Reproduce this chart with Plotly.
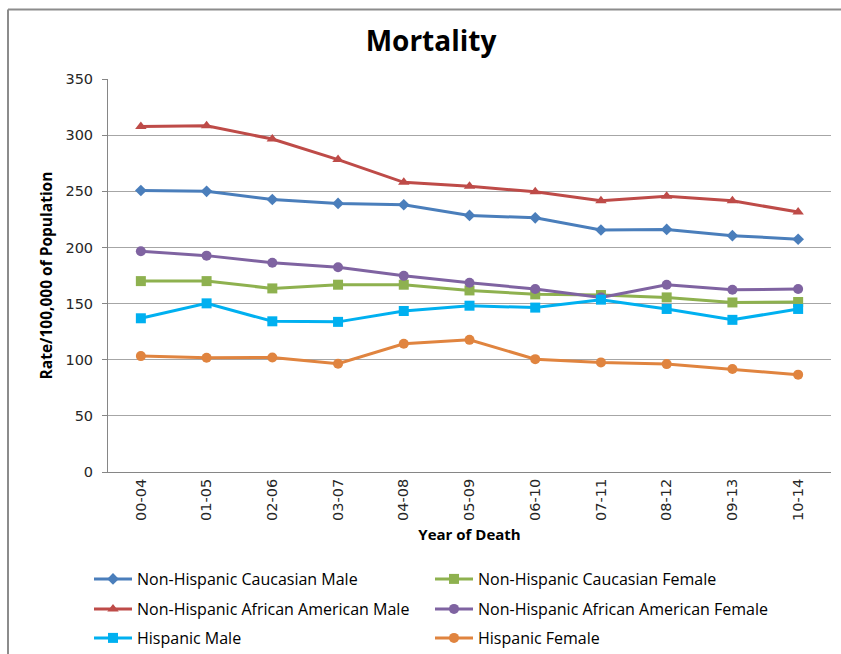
import plotly.graph_objects as go

categories = ["00-04", "01-05", "02-06", "03-07", "04-08", "05-09",
              "06-10", "07-11", "08-12", "09-13", "10-14"]

nh_caucasian_male = [250.7, 250.0, 242.7, 239.2, 238.0, 228.5, 226.4, 215.5, 216.0, 210.5, 207.3]
nh_caucasian_female = [170.0, 170.0, 163.5, 166.8, 166.8, 161.7, 158.2, 157.6, 155.5, 151.0, 151.4]
nh_afam_male = [307.7, 308.3, 296.5, 278.2, 258.0, 254.5, 249.5, 241.5, 245.6, 241.5, 231.5]
nh_afam_female = [196.6, 192.7, 186.3, 182.4, 174.7, 168.5, 163.0, 155.5, 166.8, 162.3, 163.0]
hispanic_male = [136.9, 150.2, 134.2, 133.7, 143.4, 148.1, 146.4, 153.5, 145.2, 135.5, 145.2]
hispanic_female = [103.2, 101.8, 102.0, 96.4, 114.2, 117.7, 100.5, 97.6, 96.1, 91.7, 86.7]

series = [
    ("Non-Hispanic Caucasian Male", nh_caucasian_male, "#4A7EBB", "diamond", 9, "legend"),
    ("Non-Hispanic Caucasian Female", nh_caucasian_female, "#8EB14F", "square", 10, "legend"),
    ("Non-Hispanic African American Male", nh_afam_male, "#BE4B48", "triangle-up", 10, "legend2"),
    ("Non-Hispanic African American Female", nh_afam_female, "#7F63A1", "circle", 10, "legend2"),
    ("Hispanic Male", hispanic_male, "#00B0F0", "square", 10, "legend3"),
    ("Hispanic Female", hispanic_female, "#E0843F", "circle", 10, "legend3"),
]

fig = go.Figure()
for name, vals, color, sym, size, lg in series:
    fig.add_trace(go.Scatter(
        x=categories, y=vals, name=name, mode="lines+markers",
        line=dict(color=color, width=3),
        marker=dict(symbol=sym, size=size, color=color),
        legend=lg,
    ))

W, H = 841, 654
L, R, T, B = 108, 10, 79, 182
pw, ph = W - L - R, H - T - B

def px(x):
    return (x - L) / pw

def py(y):
    return (H - B - y) / ph

leg_common = dict(orientation="h", xanchor="left", yanchor="middle",
                  font=dict(family="Open Sans", size=16, color="#000000"),
                  entrywidth=288, entrywidthmode="pixels", itemwidth=38,
                  bgcolor="rgba(0,0,0,0)", borderwidth=0)

fig.update_layout(
    width=W, height=H,
    margin=dict(l=L, r=R, t=T, b=B, autoexpand=False),
    paper_bgcolor="white", plot_bgcolor="white",
    title=dict(text="<b>Mortality</b>", x=px(431), xref="paper", xanchor="center",
               y=1 - 41 / H, yanchor="middle",
               font=dict(family="Open Sans", size=28, color="#000000")),
    xaxis=dict(type="category", range=[-0.5, 10.5], showgrid=False,
               showline=True, linecolor="#868686", linewidth=1,
               ticks="", tickangle=-90, automargin=False,
               tickfont=dict(family="DejaVu Sans", size=14.5, color="#262626"),
               title=dict(text="<b>Year of Death</b>", standoff=9,
                          font=dict(family="Open Sans", size=15, color="#000000"))),
    yaxis=dict(range=[0, 350], dtick=50, showgrid=True, gridcolor="#A6A6A6",
               gridwidth=1, showline=True, linecolor="#868686", linewidth=1,
               ticks="outside", ticklen=5, tickcolor="#868686",
               ticklabelstandoff=6, zeroline=False, automargin=False,
               tickfont=dict(family="DejaVu Sans", size=14.5, color="#262626"),
               title=dict(text="<b>Rate/100,000 of Population</b>", standoff=8,
                          font=dict(family="Open Sans", size=15.5, color="#000000"))),
    legend=dict(x=px(89), y=py(579), **leg_common),
    legend2=dict(x=px(89), y=py(609), **leg_common),
    legend3=dict(x=px(89), y=py(638), **leg_common),
    showlegend=True,
    shapes=[
        dict(type="line", xref="paper", yref="paper", x0=px(8), x1=px(8),
             y0=py(9.5), y1=py(654), line=dict(color="#8C8C8C", width=2)),
        dict(type="line", xref="paper", yref="paper", x0=px(8), x1=px(841),
             y0=py(9.5), y1=py(9.5), line=dict(color="#8C8C8C", width=2)),
    ],
)

fig.write_html("out.html", config={"displayModeBar": False},
               post_script="document.body.style.margin='0px';document.body.style.overflow='hidden';")
